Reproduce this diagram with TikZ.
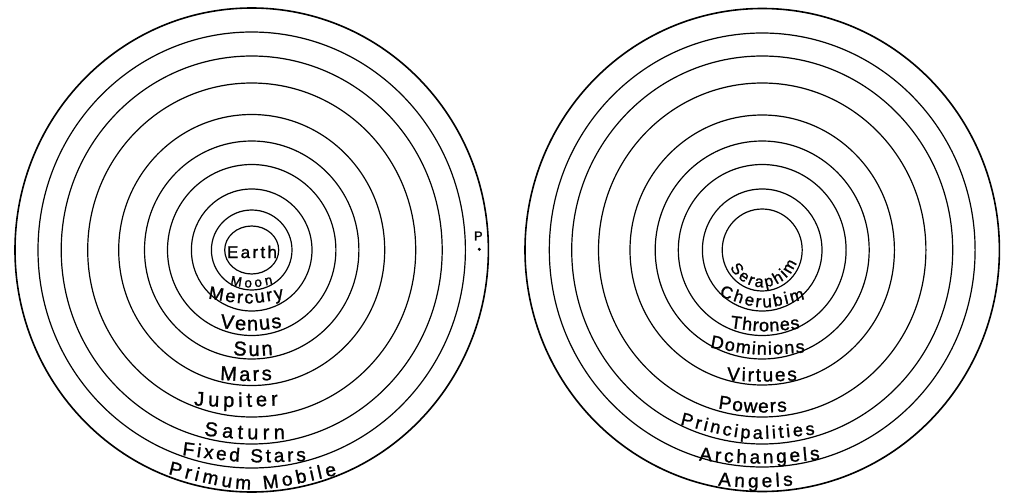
\documentclass[tikz,border=0pt]{standalone}
\usepackage{fontspec}
\newfontfamily\hand[FakeBold=1.2]{Liberation Sans}
\usetikzlibrary{decorations.text,calc}
\tikzset{
  orb/.style={line width=1.2pt},
  outerorb/.style={line width=1.6pt},
}
% \orbit[style]{cx}{cy}{rx}{ry}
\newcommand\orbit[5][orb]{\draw[#1] (#2,#3) ellipse [x radius=#4pt, y radius=#5pt];}
% \lab{size}{Ax}{Ay}{Mx}{My}{Bx}{By}{text}: text along a curve through A, M, B
\newcommand\lab[8]{\path[decorate,decoration={text along path,text align={fit to path},
  text={|\hand\fontsize{#1}{#1}\selectfont|#8}}]
  (#2,#3) .. controls ($1.333333*(#4,#5)-0.1666667*(#2,#3)-0.1666667*(#6,#7)$) .. (#6,#7);}
\begin{document}
\begin{tikzpicture}[x=1pt,y=-1pt]
\useasboundingbox (0,0) rectangle (1009,495);
% ---------- left: the spheres ----------
\orbit{251.7}{250}{27}{24}
\orbit{251.7}{250}{40.3}{40}
\orbit{251.7}{250}{60.3}{61}
\orbit{251.7}{250}{84.2}{85.5}
\orbit{251.7}{250}{107.2}{109}
\orbit{251.7}{250}{133}{135.5}
\orbit{251.7}{250}{164}{167}
\orbit{251.7}{250}{190.5}{194}
\orbit{251.7}{250}{213.7}{218}
\orbit[outerorb]{251.7}{250}{236.7}{242}
\lab{17}{227}{258}{252}{258}{277}{258}{Earth}
\lab{13.5}{230}{285}{251}{287.5}{273}{284}{Moon}
\lab{18}{208}{298.5}{247}{303.5}{284}{298.5}{Mercury}
\lab{20}{220}{328}{251}{330.5}{282}{327.5}{Venus}
\lab{20}{233}{355}{253}{356}{273}{355}{Sun}
\lab{20}{220}{380}{246}{381}{272}{380}{Mars}
\lab{20}{194}{405.5}{236}{407}{278}{405.5}{Jupiter}
\lab{20}{204}{435.5}{244}{439}{285}{439}{Saturn}
\lab{19}{182}{455}{244}{462}{306}{461}{Fixed Stars}
\lab{19}{168}{474}{252}{489.5}{337}{475}{Primum Mobile}
\node[font=\hand\fontsize{13}{13}\selectfont, inner sep=0pt] (p) at (478.3,236) {P};
\fill (479.3,249.3) circle[radius=1.7pt] coordinate (pdot);
% ---------- right: the angelic orders ----------
\orbit{762.2}{250}{40}{41}
\orbit{762.2}{250}{59.8}{61}
\orbit{762.2}{250}{83.9}{85.5}
\orbit{762.2}{250}{107}{109}
\orbit{762.2}{250}{132.2}{135}
\orbit{762.2}{250}{163.7}{167}
\orbit{762.2}{250}{190.5}{194}
\orbit{762.2}{250}{212.9}{217}
\orbit[outerorb]{762.2}{250}{237.2}{241.5}
\path[decorate,decoration={text along path,text align={fit to path},
  text={|\hand\fontsize{16}{16}\selectfont|Seraphim}}]
  ($(762.2,250)+({36.5*cos(152)},{37.2*sin(152)})$) arc[start angle=152, end angle=20, x radius=36.5, y radius=37.2];
\lab{17}{719}{296}{762}{307.5}{805}{299}{Cherubim}
\lab{18}{730}{328}{765}{331.5}{800}{328.5}{Thrones}
\lab{18}{710}{347.5}{757}{354.5}{805}{352.5}{Dominions}
\lab{19}{727}{380.5}{762}{381.5}{797}{380.5}{Virtues}
\lab{19}{718}{408.5}{752}{412.5}{787}{411.5}{Powers}
\lab{18}{680}{424.5}{748}{438.5}{815}{434.5}{Principalities}
\lab{19}{699}{460.5}{760}{463.5}{820}{459.5}{Archangels}
\lab{19}{718}{485.5}{755}{487.5}{793}{485.5}{Angels}
\end{tikzpicture}
\end{document}
